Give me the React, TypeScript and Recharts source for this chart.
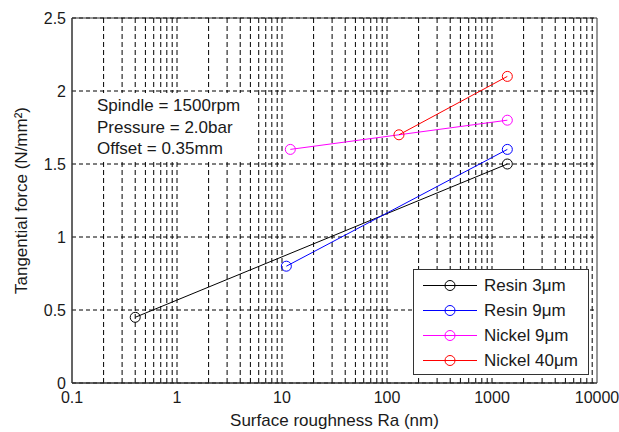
import React from 'react';
import {
  ComposedChart, Line, XAxis, YAxis, CartesianGrid,
  ReferenceLine, ReferenceArea, Legend,
} from 'recharts';

// Valeurs (x en nm, échelle log ; y en N/mm²)
const resin3 = [
  { x: 0.4, y: 0.45 },
  { x: 1400, y: 1.5 },
];
const resin9 = [
  { x: 11, y: 0.8 },
  { x: 1400, y: 1.6 },
];
const nickel9 = [
  { x: 12, y: 1.6 },
  { x: 1400, y: 1.8 },
];
const nickel40 = [
  { x: 130, y: 1.7 },
  { x: 1400, y: 2.1 },
];

const series = [
  { name: 'Resin 3μm', color: '#000000', data: resin3 },
  { name: 'Resin 9μm', color: '#0000ff', data: resin9 },
  { name: 'Nickel 9μm', color: '#ff00ff', data: nickel9 },
  { name: 'Nickel 40μm', color: '#ff0000', data: nickel40 },
];

const xTicks = [0.1, 1, 10, 100, 1000, 10000];
const yTicks = [0, 0.5, 1, 1.5, 2, 2.5];
const decades = [0.1, 1, 10, 100, 1000];
const minorSteps = [2, 3, 4, 5, 6, 7, 8, 9];
const annotation = ['Spindle = 1500rpm', 'Pressure = 2.0bar', 'Offset = 0.35mm'];

// lignes verticales de la grille log (mineures + majeures)
const gridX = decades
  .flatMap((d) => [d, ...minorSteps.map((k) => k * d)])
  .filter((v) => v > 0.1);

const FONT = '"Liberation Sans", Arial, sans-serif';
const GRID = '#000000';
const BOX = '#333333';

function LegendBox() {
  return (
    <div
      style={{
        width: 176,
        height: 106,
        boxSizing: 'border-box',
        border: `1px solid ${BOX}`,
        background: '#fff',
        paddingTop: 3,
        fontFamily: FONT,
        fontSize: 17,
        color: '#1a1a1a',
      }}
    >
      {series.map((s) => (
        <div key={s.name} style={{ height: 25, display: 'flex', alignItems: 'center' }}>
          <svg width={64} height={25} style={{ flex: 'none' }}>
            <line x1={9} y1={12.5} x2={63} y2={12.5} stroke={s.color} strokeWidth={1} />
            <circle cx={36} cy={12.5} r={5} fill="none" stroke={s.color} strokeWidth={1} />
          </svg>
          <span style={{ marginLeft: 6, whiteSpace: 'nowrap' }}>{s.name}</span>
        </div>
      ))}
    </div>
  );
}

export default function App() {
  return (
    <div style={{ position: 'absolute', left: 0, top: 0, width: 619, height: 432, background: '#fff' }}>
      <ComposedChart
        width={619}
        height={432}
        margin={{ top: 18, right: 22, bottom: 0, left: 0 }}
        style={{ fontFamily: FONT }}
      >
        <CartesianGrid vertical={false} stroke={GRID} strokeDasharray="4 3" />
        {gridX.map((v) => (
          <ReferenceLine key={v} x={v} stroke={GRID} strokeDasharray="5 3" strokeWidth={1} />
        ))}
        <XAxis
          type="number"
          dataKey="x"
          scale="log"
          domain={[0.1, 10000]}
          allowDataOverflow
          ticks={xTicks}
          height={49}
          tickSize={0}
          tickMargin={9}
          axisLine={{ stroke: BOX }}
          tick={{ fontSize: 16, fill: '#1a1a1a' }}
          label={{
            value: 'Surface roughness Ra (nm)',
            position: 'insideBottom',
            offset: 6,
            style: { fontSize: 17, fill: '#1a1a1a' },
          }}
        />
        <YAxis
          type="number"
          domain={[0, 2.5]}
          ticks={yTicks}
          width={72}
          tickSize={0}
          tickMargin={6}
          axisLine={{ stroke: BOX }}
          tick={{ fontSize: 16, fill: '#1a1a1a' }}
          label={{
            value: 'Tangential force (N/mm²)',
            angle: -90,
            position: 'insideLeft',
            offset: 21,
            style: { fontSize: 17, fill: '#1a1a1a', textAnchor: 'middle' },
          }}
        />
        <ReferenceArea x1={0.1} x2={10000} y1={0} y2={2.5} fill="none" stroke={BOX} strokeWidth={1} />
        {series.map((s) => (
          <Line
            key={s.name}
            data={s.data}
            dataKey="y"
            name={s.name}
            type="linear"
            stroke={s.color}
            strokeWidth={1}
            dot={{ r: 5, fill: 'none', stroke: s.color, strokeWidth: 1 }}
            activeDot={false}
            isAnimationActive={false}
          />
        ))}
        <Legend
          layout="vertical"
          align="center"
          verticalAlign="middle"
          content={() => <LegendBox />}
          wrapperStyle={{ left: 413, top: 269, width: 176, height: 106 }}
        />
      </ComposedChart>
      {/* bloc de texte sur fond blanc, comme dans la figure */}
      <div
        style={{
          position: 'absolute',
          left: 73,
          top: 93,
          width: 183,
          height: 69,
          boxSizing: 'border-box',
          paddingLeft: 24,
          paddingTop: 2,
          background: '#fff',
          fontFamily: FONT,
          fontSize: 17,
          lineHeight: '21.5px',
          color: '#1a1a1a',
          pointerEvents: 'none',
        }}
      >
        {annotation.map((t) => (
          <div key={t} style={{ whiteSpace: 'nowrap' }}>{t}</div>
        ))}
      </div>
    </div>
  );
}
